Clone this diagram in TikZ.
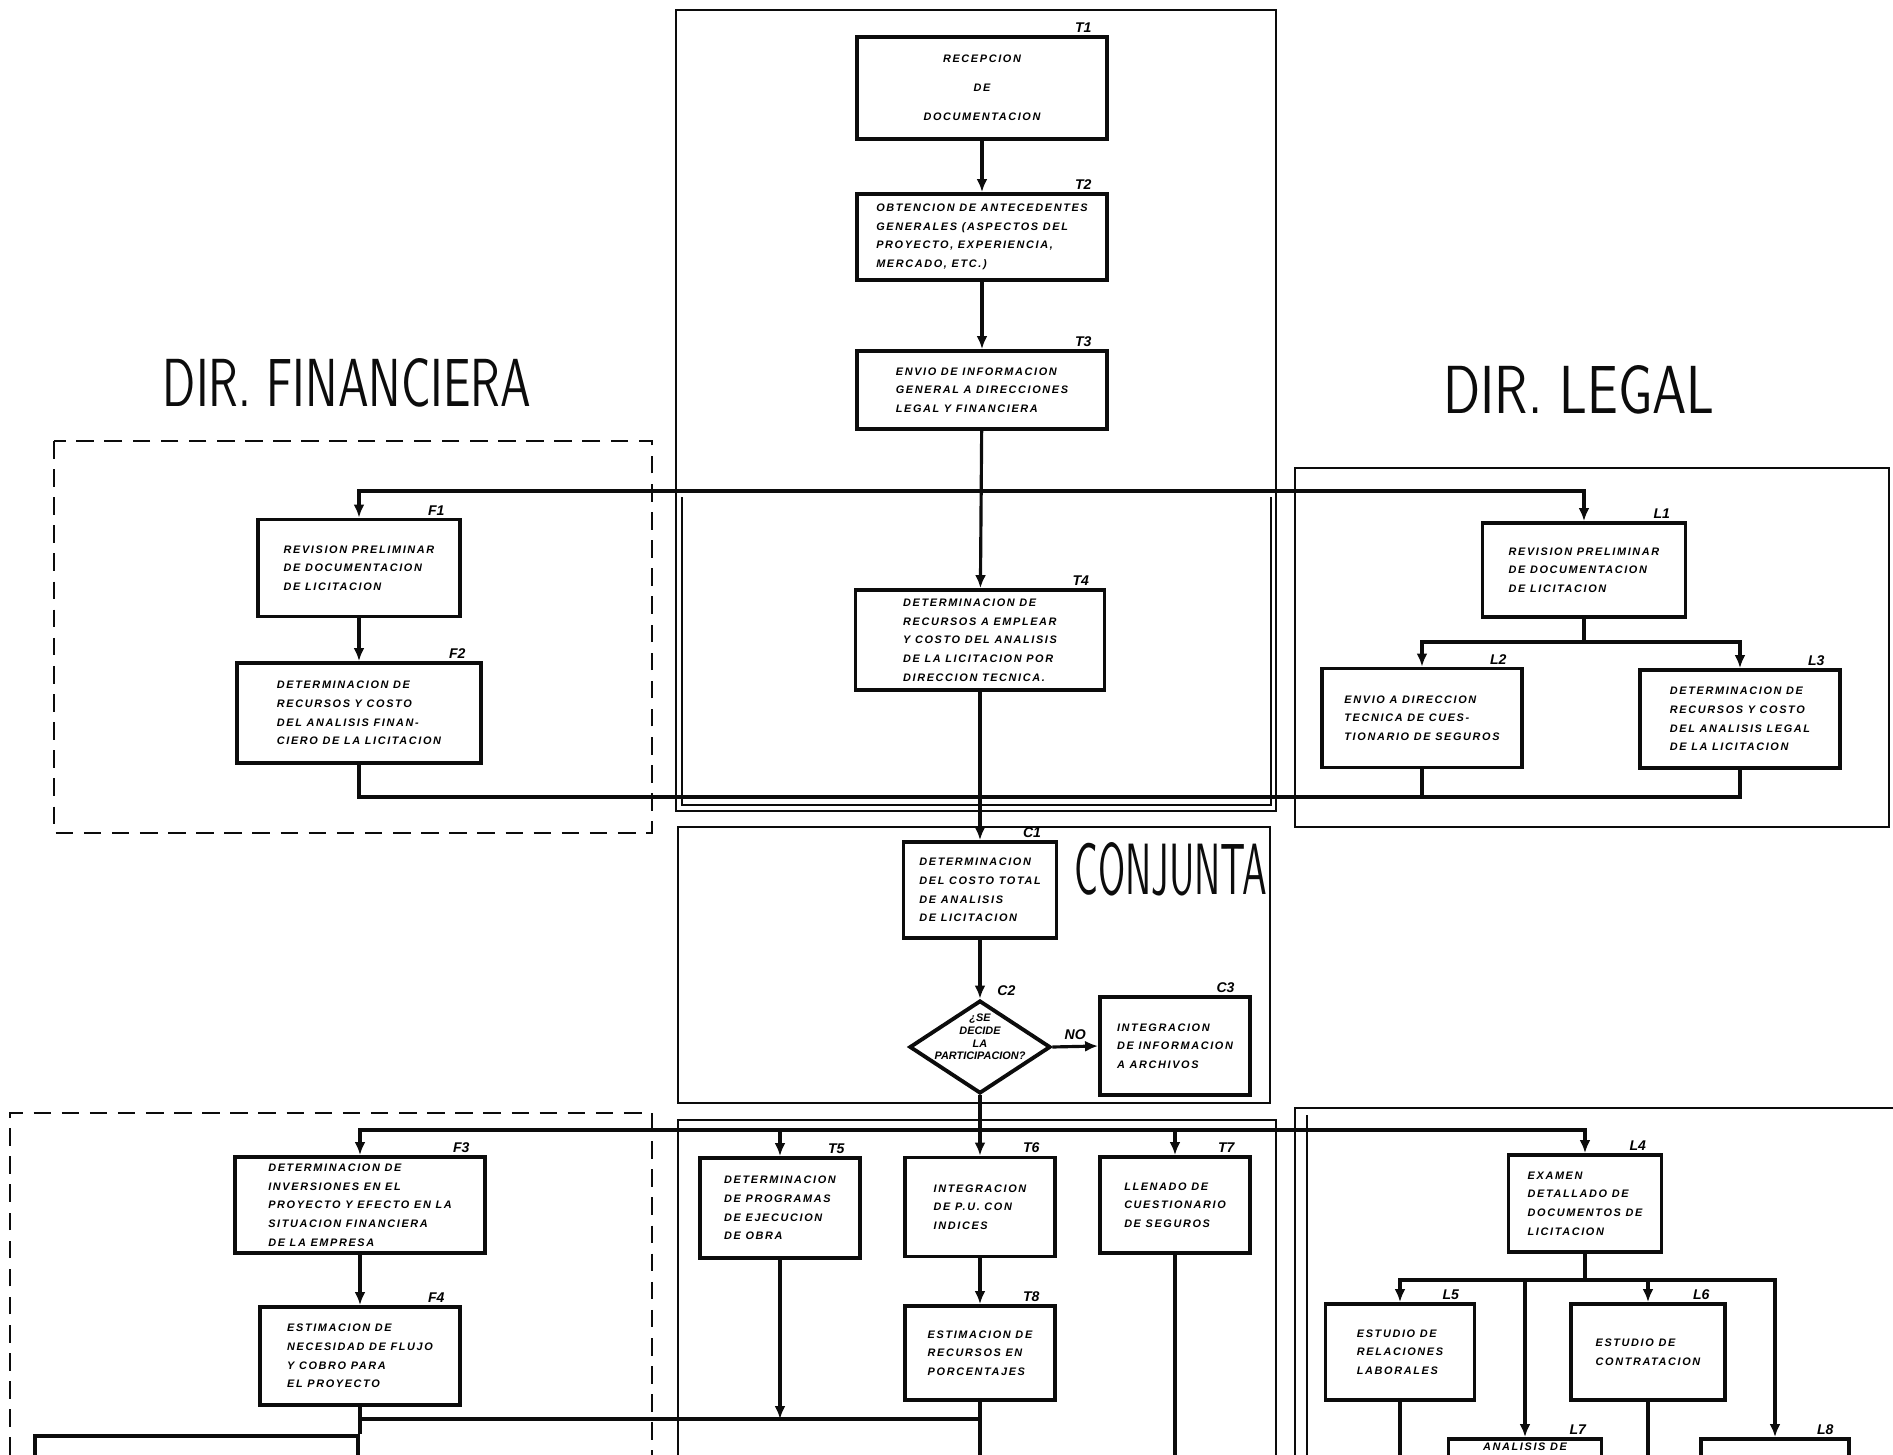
\documentclass[tikz,border=0pt]{standalone}
\usepackage{fontspec}
\usepackage{graphicx}
\usepackage{tikz}
\usetikzlibrary{
  arrows.meta,
  positioning,
  shapes.geometric
}
\newfontfamily\fcfont[LetterSpace=15]{Liberation Sans}
\newfontfamily\fcplain{Liberation Sans}
\definecolor{fcink}{RGB}{12,12,12}
\tikzset{
  fcBox/.style={
    rectangle,
    draw=fcink,
    line width=1.1pt,
    inner sep=1pt,
    align=left,
    font=\fcfont\bfseries\itshape\fontsize{3.1}{5.3}\selectfont
  },
  fcDecision/.style={
    diamond,
    draw=fcink,
    line width=1.1pt,
    inner sep=0pt
  },
  fcDecisionText/.style={
    align=center,
    inner sep=0pt,
    yshift=1mm,
    font=\fcplain\bfseries\itshape\fontsize{3.1}{3.6}\selectfont
  },
  fcTagText/.style={
    inner sep=0.5pt,
    font=\fcplain\bfseries\itshape\fontsize{4}{4}\selectfont
  },
  fcTag/.style={
    label={[fcTagText, anchor=south east, xshift=-1.5mm]north east:#1}
  },
  fcArrow/.style={
    -{Latex[length=1.3mm, width=1.1mm]},
    line width=0.9pt,
    draw=fcink
  },
  fcLine/.style={
    line width=0.9pt,
    draw=fcink
  },
  fcFrame/.style={
    line width=0.7pt,
    draw=fcink
  },
  fcDashed/.style={
    line width=0.7pt,
    draw=fcink,
    dash pattern=on 5pt off 3pt
  },
  fcTitle/.style={
    inner sep=0pt,
    text=fcink,
    font=\sffamily
  }
}

\begin{document}
\begin{tikzpicture}
  \clip (0,0) rectangle (18.93,-14.55);

  % areas
  \draw[fcFrame] (6.76,-0.10) rectangle (12.76,-8.11);
  \draw[fcFrame] (6.82,-4.97) -- (6.82,-8.05) -- (12.71,-8.05) -- (12.71,-4.97);
  \draw[fcDashed] (0.54,-4.41) rectangle (6.52,-8.33);
  \draw[fcFrame] (12.95,-4.68) rectangle (18.89,-8.27);
  \draw[fcFrame] (6.78,-8.27) rectangle (12.70,-11.03);
  \draw[fcDashed] (0.10,-14.55) -- (0.10,-11.13) -- (6.52,-11.13) -- (6.52,-14.55);
  \draw[fcFrame] (6.78,-14.55) -- (6.78,-11.20) -- (12.76,-11.20) -- (12.76,-14.55);
  \draw[fcFrame] (12.95,-14.55) -- (12.95,-11.08) -- (18.93,-11.08);
  \draw[fcFrame] (13.07,-11.15) -- (13.07,-14.55);

  % titles
  \node[fcTitle] (dirFin) at (3.47,-3.83)
    {\resizebox{3.68cm}{0.48cm}{DIR. FINANCIERA}};
  \node[fcTitle] (dirLeg) at (15.79,-3.90)
    {\resizebox{2.71cm}{0.48cm}{DIR. LEGAL}};
  \node[fcTitle] (conj) at (11.71,-8.69)
    {\resizebox{1.93cm}{0.52cm}{CONJUNTA}};

  % direccion tecnica
  \node[fcBox, align=center, fcTag=T1, minimum width=2.5cm, minimum height=1.02cm]
    (b1) at (9.82,-0.88) {RECEPCION\\[3pt]DE\\[3pt]DOCUMENTACION};
  \node[fcBox, fcTag=T2, minimum width=2.5cm, minimum height=0.86cm]
    (b2) at (9.82,-2.37) {OBTENCION DE ANTECEDENTES\\GENERALES (ASPECTOS DEL\\PROYECTO, EXPERIENCIA,\\MERCADO, ETC.)};
  \node[fcBox, fcTag=T3, minimum width=2.5cm, minimum height=0.78cm]
    (b3) at (9.82,-3.90) {ENVIO DE INFORMACION\\GENERAL A DIRECCIONES\\LEGAL Y FINANCIERA};
  \node[fcBox, fcTag=T4, minimum width=2.49cm, minimum height=1.0cm]
    (b4) at (9.80,-6.40) {DETERMINACION DE\\RECURSOS A EMPLEAR\\Y COSTO DEL ANALISIS\\DE LA LICITACION POR\\DIRECCION TECNICA.};

  % direccion financiera
  \node[fcBox, fcTag=F1, minimum width=2.02cm, minimum height=0.97cm]
    (f1) at (3.59,-5.68) {REVISION PRELIMINAR\\DE DOCUMENTACION\\DE LICITACION};
  \node[fcBox, fcTag=F2, minimum width=2.44cm, minimum height=1.0cm]
    (f2) at (3.59,-7.13) {DETERMINACION DE\\RECURSOS Y COSTO\\DEL ANALISIS FINAN-\\CIERO DE LA LICITACION};

  % direccion legal
  \node[fcBox, fcTag=L1, minimum width=2.03cm, minimum height=0.94cm]
    (l1) at (15.84,-5.70) {REVISION PRELIMINAR\\DE DOCUMENTACION\\DE LICITACION};
  \node[fcBox, fcTag=L2, minimum width=2.0cm, minimum height=0.99cm]
    (l2) at (14.22,-7.18) {ENVIO A DIRECCION\\TECNICA DE CUES-\\TIONARIO DE SEGUROS};
  \node[fcBox, fcTag=L3, minimum width=2.0cm, minimum height=0.98cm]
    (l3) at (17.40,-7.19) {DETERMINACION DE\\RECURSOS Y COSTO\\DEL ANALISIS LEGAL\\DE LA LICITACION};

  % conjunta
  \node[fcBox, fcTag=C1, minimum width=1.53cm, minimum height=0.96cm]
    (c1) at (9.80,-8.90) {DETERMINACION\\DEL COSTO TOTAL\\DE ANALISIS\\DE LICITACION};
  \node[fcDecision, minimum width=1.41cm, minimum height=0.93cm,
        label={[fcDecisionText]center:{¿SE\\DECIDE\\LA\\PARTICIPACION?}},
        label={[fcTagText, anchor=south west, xshift=1.5mm]north:C2}]
    (c2) at (9.80,-10.47) {};
  \node[fcBox, fcTag=C3, minimum width=1.5cm, minimum height=0.98cm]
    (c3) at (11.75,-10.46) {INTEGRACION\\DE INFORMACION\\A ARCHIVOS};

  % segunda etapa
  \node[fcBox, fcTag=F3, minimum width=2.5cm, minimum height=0.96cm]
    (f3) at (3.60,-12.05) {DETERMINACION DE\\INVERSIONES EN EL\\PROYECTO Y EFECTO EN LA\\SITUACION FINANCIERA\\DE LA EMPRESA};
  \node[fcBox, fcTag=F4, minimum width=2.0cm, minimum height=0.98cm]
    (f4) at (3.60,-13.56) {ESTIMACION DE\\NECESIDAD DE FLUJO\\Y COBRO PARA\\EL PROYECTO};
  \node[fcBox, fcTag=T5, minimum width=1.6cm, minimum height=1.0cm]
    (t5) at (7.80,-12.08) {DETERMINACION\\DE PROGRAMAS\\DE EJECUCION\\DE OBRA};
  \node[fcBox, fcTag=T6, minimum width=1.5cm, minimum height=0.99cm]
    (t6) at (9.80,-12.07) {INTEGRACION\\DE P.U. CON\\INDICES};
  \node[fcBox, fcTag=T7, minimum width=1.5cm, minimum height=0.96cm]
    (t7) at (11.75,-12.05) {LLENADO DE\\CUESTIONARIO\\DE SEGUROS};
  \node[fcBox, fcTag=T8, minimum width=1.5cm, minimum height=0.94cm]
    (t8) at (9.80,-13.53) {ESTIMACION DE\\RECURSOS EN\\PORCENTAJES};
  \node[fcBox, fcTag=L4, minimum width=1.53cm, minimum height=0.97cm]
    (l4) at (15.85,-12.035) {EXAMEN\\DETALLADO DE\\DOCUMENTOS DE\\LICITACION};
  \node[fcBox, fcTag=L5, minimum width=1.49cm, minimum height=0.96cm]
    (l5) at (14.00,-13.52) {ESTUDIO DE\\RELACIONES\\LABORALES};
  \node[fcBox, fcTag=L6, minimum width=1.54cm, minimum height=0.96cm]
    (l6) at (16.48,-13.52) {ESTUDIO DE\\CONTRATACION};
  \node[fcBox, fcTag=L7, anchor=north, minimum width=1.53cm, text depth=0.8cm]
    (l7) at (15.25,-14.37) {ANALISIS DE};
  \node[fcBox, fcTag=L8, anchor=north, minimum width=1.48cm, minimum height=1cm]
    (l8) at (17.75,-14.37) {};
  \node[fcBox, anchor=north east, minimum width=3.23cm, minimum height=1cm]
    (fz) at (3.60,-14.34) {};

  % juntas y extremos
  \coordinate (busA) at (9.80,-4.91);
  \coordinate (busB) at (9.80,-7.97);
  \coordinate (ramL) at (15.84,-6.42);
  \coordinate (busC) at (9.80,-11.30);
  \coordinate (ramE) at (15.85,-12.80);
  \coordinate (busD) at (9.80,-14.19);
  \coordinate (finT8) at (9.80,-14.60);
  \coordinate (finT7) at (11.75,-14.60);
  \coordinate (finL5) at (14.00,-14.60);
  \coordinate (finL6) at (16.48,-14.60);

  % flujo
  \draw[fcArrow] (b1) -- (b2);
  \draw[fcArrow] (b2) -- (b3);
  \draw[fcArrow] (b3) -- (b4);
  \draw[fcArrow] (busA) -| (f1.north);
  \draw[fcArrow] (busA) -| (l1.north);
  \draw[fcArrow] (f1) -- (f2);
  \draw[fcLine] (l1) -- (ramL);
  \draw[fcArrow] (ramL) -| (l2.north);
  \draw[fcArrow] (ramL) -| (l3.north);
  \draw[fcLine] (f2.south) |- (busB);
  \draw[fcLine] (l2.south) |- (busB);
  \draw[fcLine] (l3.south) |- (busB);
  \draw[fcArrow] (b4) -- (c1);
  \draw[fcArrow] (c1) -- (c2);
  \draw[fcArrow] (c2.east) -- node[fcTagText, above=1pt] (no) {NO} (c3.west);
  \draw[fcLine] (c2.south) -- (busC);
  \draw[fcArrow] (busC) -| (f3.north);
  \draw[fcArrow] (busC) -| (l4.north);
  \draw[fcArrow] (t5.north |- busC) -- (t5.north);
  \draw[fcArrow] (busC) -- (t6);
  \draw[fcArrow] (t7.north |- busC) -- (t7.north);
  \draw[fcArrow] (f3) -- (f4);
  \draw[fcArrow] (t6) -- (t8);
  \draw[fcLine] (l4) -- (ramE);
  \draw[fcArrow] (ramE) -| (l5.north);
  \draw[fcArrow] (ramE) -| (l7.north);
  \draw[fcArrow] (ramE) -| (l6.north);
  \draw[fcArrow] (ramE) -| (l8.north);
  \draw[fcLine] (f4.south) -- (fz.north east);
  \draw[fcLine] (f4.south |- busD) -- (busD);
  \draw[fcArrow] (t5) -- (t5.south |- busD);
  \draw[fcLine] (t8) -- (finT8);
  \draw[fcLine] (t7) -- (finT7);
  \draw[fcLine] (l5) -- (finL5);
  \draw[fcLine] (l6) -- (finL6);
\end{tikzpicture}
\end{document}
